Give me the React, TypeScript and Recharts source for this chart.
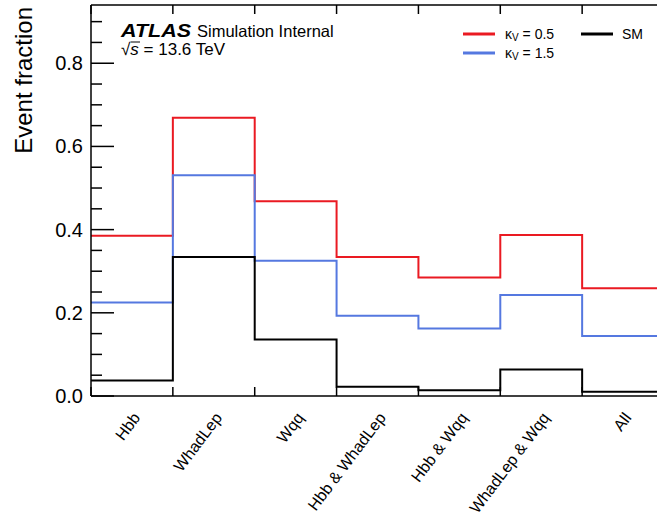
import { ComposedChart, Line, XAxis, YAxis } from 'recharts'

const bins = ['Hbb', 'WhadLep', 'Wqq', 'Hbb & WhadLep', 'Hbb & Wqq', 'WhadLep & Wqq', 'All']
const kv05 = [0.385, 0.669, 0.468, 0.334, 0.285, 0.387, 0.259]
const kv15 = [0.225, 0.531, 0.325, 0.193, 0.162, 0.243, 0.144]
const sm = [0.037, 0.334, 0.136, 0.022, 0.014, 0.064, 0.01]
const yTicks = [0, 0.05, 0.1, 0.15, 0.2, 0.25, 0.3, 0.35, 0.4, 0.45, 0.5, 0.55, 0.6, 0.65, 0.7, 0.75, 0.8, 0.85, 0.9]

// histogram outline: one point per bin edge, last edge repeats the last bin
const data = Array.from({ length: bins.length + 1 }, (_, i) => {
  const k = Math.min(i, bins.length - 1)
  return { edge: i, kv05: kv05[k], kv15: kv15[k], sm: sm[k] }
})
const bottomTicks = Array.from({ length: bins.length * 2 + 1 }, (_, i) => i / 2)
const edgeTicks = Array.from({ length: bins.length + 1 }, (_, i) => i)

const FONT = '"Liberation Sans", Arial, Helvetica, sans-serif'
const AX = { stroke: '#000', strokeWidth: 1.5 }

const isMajor = (v: number) => Math.abs(v / 0.2 - Math.round(v / 0.2)) < 1e-6

function LeftTick({ x, y, payload }: any) {
  const v = payload.value as number
  const major = isMajor(v)
  return (
    <g>
      <line x1={x} x2={x + (major ? 23 : 11)} y1={y} y2={y} {...AX} />
      {major && (
        <text x={x - 8} y={y + 7} textAnchor="end" fontSize={20} fontFamily={FONT} fill="#000">
          {v.toFixed(1)}
        </text>
      )}
    </g>
  )
}

function RightTick({ x, y, payload }: any) {
  const major = isMajor(payload.value)
  return <line x1={x} x2={x - (major ? 23 : 11)} y1={y} y2={y} {...AX} />
}

function TopTick({ x, y }: any) {
  return <line x1={x} x2={x} y1={y} y2={y + 9} {...AX} />
}

function BottomTick({ x, y, payload }: any) {
  const v = payload.value as number
  if (Number.isInteger(v)) return <line x1={x} x2={x} y1={y} y2={y - 9} {...AX} />
  const label = bins[Math.floor(v)]
  const ax = x + 9
  const ay = y + 22
  return (
    <text
      x={ax}
      y={ay}
      textAnchor="end"
      fontSize={16}
      fontFamily={FONT}
      fill="#000"
      transform={`rotate(-53 ${ax} ${ay})`}
    >
      {label}
    </text>
  )
}

function LegendEntry({ x, y, color, sub }: { x: number; y: number; color: string; sub?: string }) {
  return (
    <g>
      <line x1={x} x2={x + 32} y1={y} y2={y} stroke={color} strokeWidth={3} />
      {sub ? (
        <text x={x + 42} y={y + 5} fontSize={14} fontFamily={FONT}>
          κ<tspan fontSize={10} dy={2}>V</tspan>
          <tspan dy={-2}> = {sub}</tspan>
        </text>
      ) : (
        <text x={x + 41} y={y + 5} fontSize={14} fontFamily={FONT}>
          SM
        </text>
      )}
    </g>
  )
}

export default function App() {
  return (
    <div
      style={{
        position: 'fixed',
        left: 0,
        top: 0,
        width: 657,
        height: 516,
        overflow: 'hidden',
        background: '#fff',
      }}
    >
      <ComposedChart width={680} height={516} data={data} margin={{ top: 4, right: 15, left: 0, bottom: 0 }}>
        <XAxis
          dataKey="edge"
          type="number"
          domain={[0, 7]}
          ticks={bottomTicks}
          interval={0}
          height={120}
          tickSize={0}
          tickMargin={0}
          axisLine={AX}
          tick={<BottomTick />}
        />
        <XAxis
          xAxisId="top"
          orientation="top"
          dataKey="edge"
          type="number"
          domain={[0, 7]}
          ticks={edgeTicks}
          interval={0}
          height={1}
          tickSize={0}
          tickMargin={0}
          axisLine={AX}
          tick={<TopTick />}
        />
        <YAxis
          type="number"
          domain={[0, 0.94]}
          ticks={yTicks}
          interval={0}
          width={91}
          tickSize={0}
          tickMargin={0}
          axisLine={AX}
          tick={<LeftTick />}
        />
        <YAxis
          yAxisId="right"
          orientation="right"
          type="number"
          domain={[0, 0.94]}
          ticks={yTicks}
          interval={0}
          width={1}
          tickSize={0}
          tickMargin={0}
          axisLine={AX}
          tick={<RightTick />}
        />
        <Line type="stepAfter" dataKey="kv05" stroke="#ea1a22" strokeWidth={2} dot={false} isAnimationActive={false} />
        <Line type="stepAfter" dataKey="kv15" stroke="#5578e0" strokeWidth={2} dot={false} isAnimationActive={false} />
        <Line type="stepAfter" dataKey="sm" stroke="#000" strokeWidth={2} dot={false} isAnimationActive={false} />
      </ComposedChart>
      <svg width={657} height={516} style={{ position: 'absolute', left: 0, top: 0, pointerEvents: 'none' }}>
        <text
          x={32}
          y={7}
          textAnchor="end"
          fontSize={24}
          fontFamily={FONT}
          transform="rotate(-90 32 7)"
        >
          Event fraction
        </text>
        <text
          x={121}
          y={37}
          fontSize={18}
          fontWeight="bold"
          fontStyle="italic"
          fontFamily={FONT}
          textLength={70}
          lengthAdjust="spacingAndGlyphs"
        >
          ATLAS
        </text>
        <text x={197} y={37} fontSize={16.5} fontFamily={FONT}>
          Simulation Internal
        </text>
        <text x={121} y={55} fontSize={17} fontFamily={FONT}>
          √<tspan fontStyle="italic">s</tspan> = 13.6 TeV
        </text>
        <line x1={130.5} x2={140} y1={42} y2={42} stroke="#000" strokeWidth={1} />
        <LegendEntry x={463} y={34} color="#ea1a22" sub="0.5" />
        <LegendEntry x={463} y={53} color="#5578e0" sub="1.5" />
        <LegendEntry x={581} y={34} color="#000" />
      </svg>
    </div>
  )
}
